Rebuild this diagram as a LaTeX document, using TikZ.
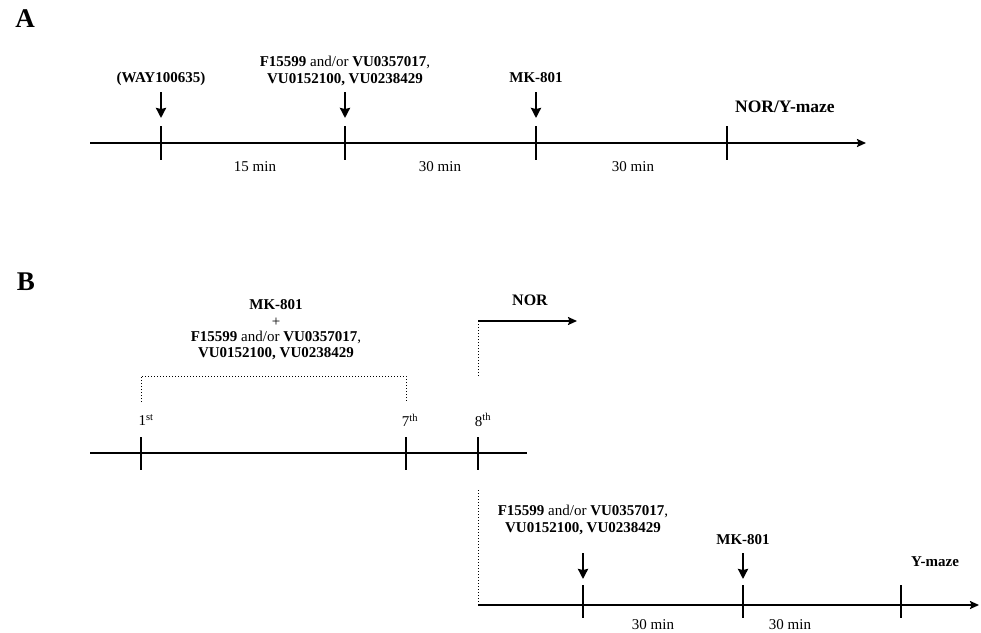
\documentclass[tikz,border=0pt]{standalone}
\usepackage{fontspec}
\setmainfont{Liberation Serif}
\usetikzlibrary{arrows.meta}
\begin{document}
\begin{tikzpicture}[x=1pt,y=-1pt,
  axis/.style={line width=2pt,-{Stealth[length=9pt,width=8pt,inset=1.5pt]}},
  axisplain/.style={line width=2pt},
  tick/.style={line width=2.2pt},
  drug/.style={line width=2.6pt,-{Stealth[length=10pt,width=10pt,inset=1pt]}},
  dots/.style={line width=1pt,dotted},
  lbl/.style={font=\fontsize{15}{16.5}\selectfont,inner sep=0pt,align=center},
  panel/.style={font=\fontsize{27}{30}\selectfont\bfseries,inner sep=0pt}]
\useasboundingbox (0,0) rectangle (981,632);
% ---------- Panel A ----------
\node[panel] (A) at (25,19) {A};
\coordinate (a0) at (90,143);
\coordinate (aend) at (866,143);
\foreach \n/\x in {1/161,2/345,3/536,4/727}{
  \coordinate (at\n t) at (\x,126);
  \coordinate (at\n b) at (\x,160);
  \draw[tick] (at\n t) -- (at\n b);
}
\draw[axis] (a0) -- (aend);
\node[lbl] (way) at (161,79) {\textbf{(WAY100635)}};
\node[lbl] (fa) at (345,71) {\textbf{F15599} and/or \textbf{VU0357017},\\\textbf{VU0152100, VU0238429}};
\node[lbl] (mka) at (536,78) {\textbf{MK-801}};
\node[lbl,anchor=west,font=\fontsize{17.5}{20}\selectfont\bfseries] (nor) at (735,107) {NOR/Y-maze};
\coordinate (aw1) at (161,92); \coordinate (aw2) at (161,118);
\coordinate (af1) at (345,92); \coordinate (af2) at (345,118);
\coordinate (am1) at (536,92); \coordinate (am2) at (536,118);
\draw[drug] (aw1) -- (aw2);
\draw[drug] (af1) -- (af2);
\draw[drug] (am1) -- (am2);
\node[lbl] (m1) at (255,167) {15 min};
\node[lbl] (m2) at (440,167) {30 min};
\node[lbl] (m3) at (633,167) {30 min};
% ---------- Panel B ----------
\node[panel] (B) at (26,282) {B};
\node[lbl] (mkb) at (276,305) {\textbf{MK-801}};
\node[lbl] (plus) at (276,322) {+};
\node[lbl] (fbb) at (276,345.5) {\textbf{F15599} and/or \textbf{VU0357017},\\\textbf{VU0152100, VU0238429}};
\coordinate (br1) at (141,402); \coordinate (br2) at (141,376);
\coordinate (br3) at (406,376); \coordinate (br4) at (406,402);
\draw[dots] (br1) -- (br2) -- (br3) -- (br4);
\coordinate (b0) at (90,453);
\coordinate (bend) at (527,453);
\draw[axisplain] (b0) -- (bend);
\foreach \n/\x in {1/141,7/406,8/478}{
  \coordinate (bt\n t) at (\x,437);
  \coordinate (bt\n b) at (\x,470);
  \draw[tick] (bt\n t) -- (bt\n b);
}
\node[lbl] (d1) at (146,420) {1\textsuperscript{st}};
\node[lbl] (d7) at (410,420) {7\textsuperscript{th}};
\node[lbl] (d8) at (483,420) {8\textsuperscript{th}};
% NOR branch
\coordinate (n1) at (478,376);
\coordinate (n2) at (478,321);
\coordinate (n3) at (577,321);
\draw[dots] (n1) -- (n2);
\draw[line width=1.8pt,-{Stealth[length=9pt,width=8pt,inset=1.5pt]}] (n2) -- (n3);
\node[lbl,font=\fontsize{16}{18}\selectfont\bfseries] (norb) at (530,300) {NOR};
% Y-maze branch
\coordinate (y0) at (478,490);
\coordinate (y1) at (478,605);
\coordinate (yend) at (979,605);
\draw[dots] (y0) -- (y1);
\draw[axis] (y1) -- (yend);
\foreach \n/\x in {1/583,2/743,3/901}{
  \coordinate (yt\n t) at (\x,585);
  \coordinate (yt\n b) at (\x,618);
  \draw[tick] (yt\n t) -- (yt\n b);
}
\node[lbl] (fb) at (583,520) {\textbf{F15599} and/or \textbf{VU0357017},\\\textbf{VU0152100, VU0238429}};
\node[lbl] (mkc) at (743,540) {\textbf{MK-801}};
\node[lbl] (ym) at (935,562) {\textbf{Y-maze}};
\coordinate (bf1) at (583,553); \coordinate (bf2) at (583,579);
\coordinate (bm1) at (743,553); \coordinate (bm2) at (743,579);
\draw[drug] (bf1) -- (bf2);
\draw[drug] (bm1) -- (bm2);
\node[lbl] (m4) at (653,625) {30 min};
\node[lbl] (m5) at (790,625) {30 min};
\end{tikzpicture}
\end{document}
